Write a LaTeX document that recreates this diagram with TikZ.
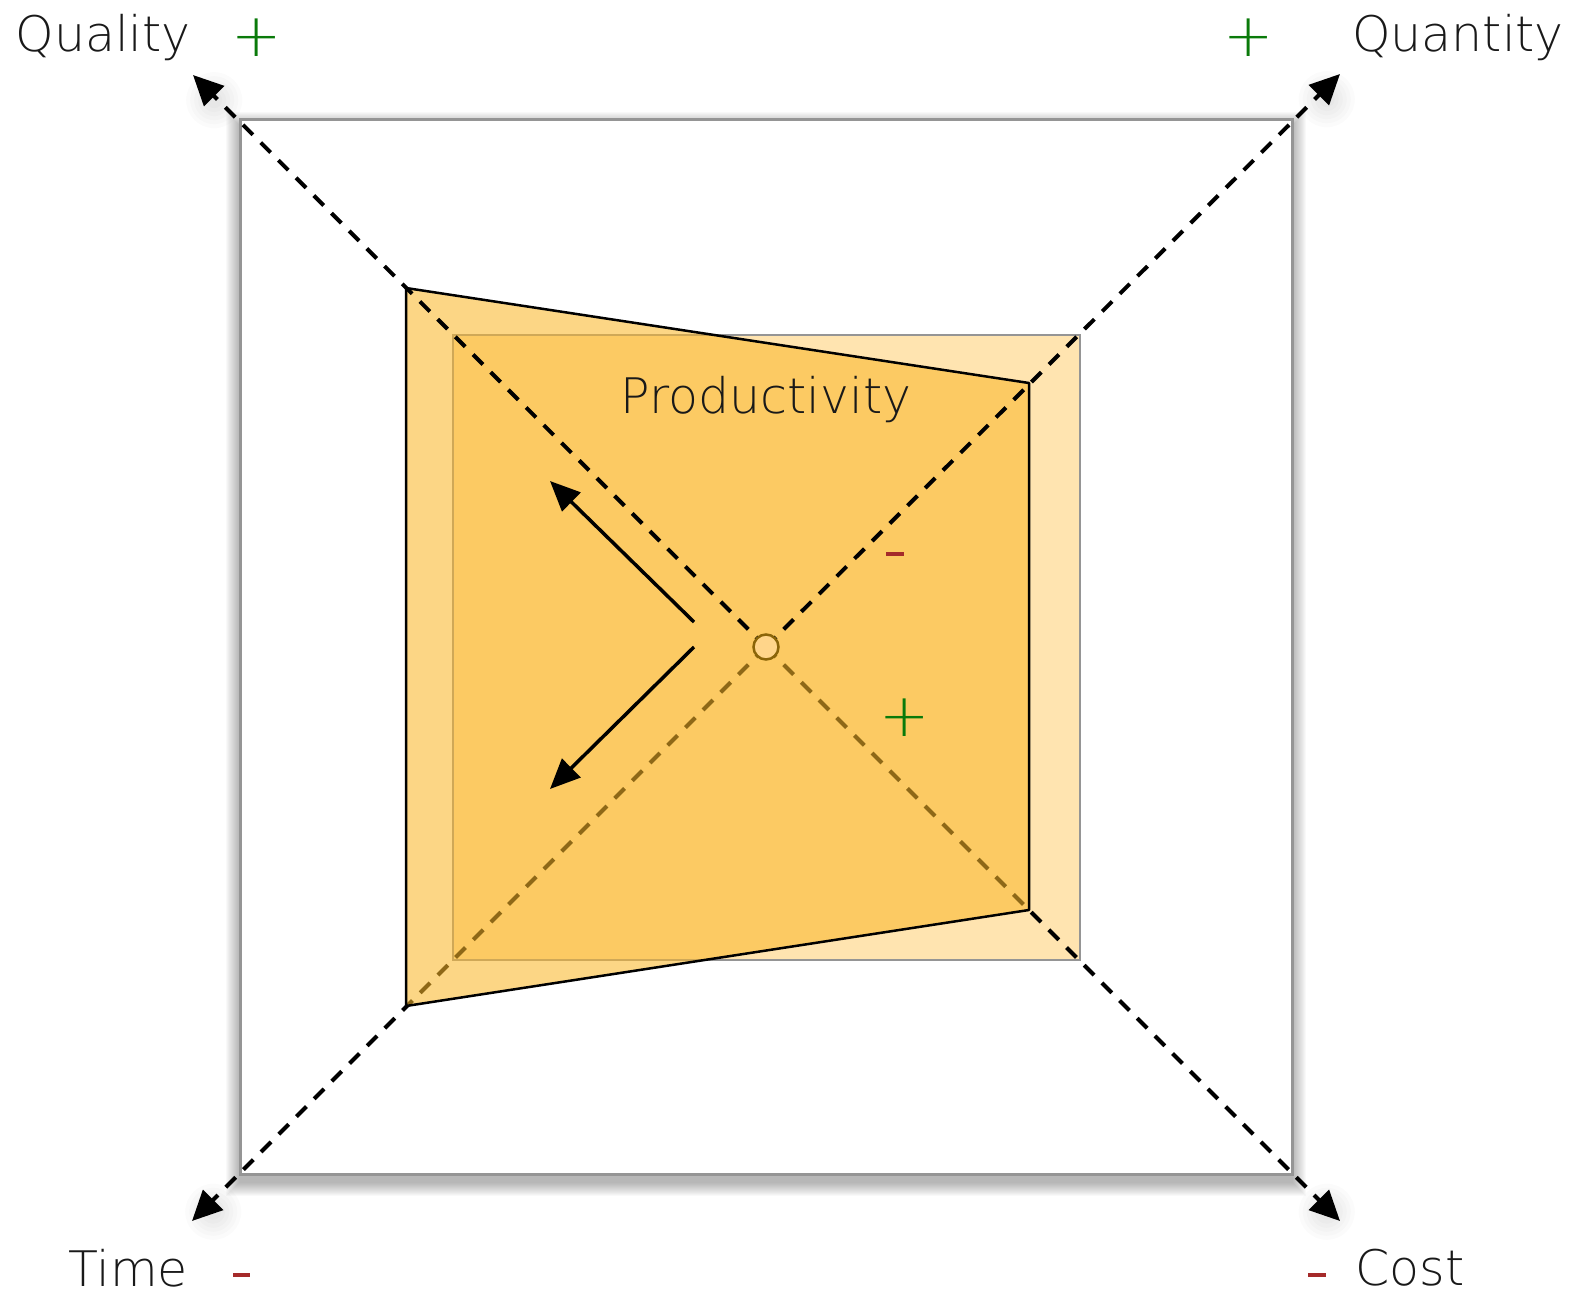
\documentclass[tikz,border=0pt]{standalone}
\usepackage{fontspec}
\setmainfont{DejaVu Sans ExtraLight}
\usetikzlibrary{arrows.meta,calc}
\definecolor{polyfill}{HTML}{FBB829}
\definecolor{innerfill}{HTML}{FFE4B0}
\definecolor{framegray}{HTML}{959595}
\definecolor{plusgreen}{HTML}{0A7A0A}
\definecolor{minusred}{HTML}{A52A2A}
\definecolor{dotstroke}{HTML}{8B6508}
\definecolor{dotfill}{HTML}{FFD58A}
\tikzset{
  dashline/.style={line width=4pt, dash pattern=on 14pt off 11pt, -{Triangle[length=30pt,width=28pt]}},
  moveline/.style={line width=3.5pt, -{Triangle[length=30pt,width=26pt]}},
  biglabel/.style={font=\fontsize{49}{56}\selectfont, inner sep=0pt, text=black!90},
  pluslabel/.style={font=\fontsize{60}{62}\selectfont, inner sep=0pt, text=plusgreen},
  minusbar/.style={line width=3.5pt, draw=minusred},
}
\begin{document}
\begin{tikzpicture}[x=1pt,y=-1pt]
\useasboundingbox (0,0) rectangle (1572,1295);
\coordinate (C) at (766,647);
\coordinate (TL) at (193,75);
\coordinate (TR) at (1340,74);
\coordinate (BL) at (192,1221);
\coordinate (BR) at (1340,1221);
% shadow of outer frame
\foreach \i in {1,...,14}{
  \fill[black, opacity=0.024] (240-\i,126-\i) rectangle (1292+\i,1182+\i);
}
% arrow tip shadows
\foreach \p in {TL,TR,BL,BR}{
  \foreach \r in {8,12,...,28}{
    \fill[black, opacity=0.014] ($(\p)!0.03!(C)+(4,8)$) circle (\r);
  }
}
\node (outer) [draw=framegray, fill=white, line width=3pt, minimum width=1052pt, minimum height=1054pt, inner sep=0pt] at (766,647) {};
\node (inner) [draw=framegray, fill=innerfill, line width=2.5pt, minimum width=627pt, minimum height=625pt, inner sep=0pt] at (766.5,647.5) {};
% lower dashed axes (under polygon)
\draw[dashline] (C) -- (BL);
\draw[dashline] (C) -- (BR);
% productivity polygon
\coordinate (P1) at (406,288);
\coordinate (P2) at (1029,383);
\coordinate (P3) at (1029,910);
\coordinate (P4) at (406,1006);
\fill[polyfill, opacity=0.57] (P1) -- (P2) -- (P3) -- (P4) -- cycle;
\draw[black, line width=2.5pt, line join=round] (P1) -- (P2) -- (P3) -- (P4) -- cycle;
% upper dashed axes
\draw[dashline] (C) -- (TL);
\draw[dashline] (C) -- (TR);
% centre point
\node (dot) [circle, draw=dotstroke, fill=dotfill, line width=2.5pt, minimum size=25pt, inner sep=0pt] at (C) {};
% movement arrows
\coordinate (a0) at (694,622);
\coordinate (a1) at (550,481);
\coordinate (b0) at (694,647);
\coordinate (b1) at (550,789);
\draw[moveline] (a0) -- (a1);
\draw[moveline] (b0) -- (b1);
% labels
\node (quality) [biglabel] at (103,38) {Quality};
\node (qualplus) [pluslabel] at (257,38) {+};
\node (quantplus) [pluslabel] at (1249,38) {+};
\node (quantity) [biglabel] at (1458,38) {Quantity};
\node (time) [biglabel] at (128,1268) {Time};
\node (cost) [biglabel] at (1410,1268) {Cost};
\node (prod) [biglabel] at (766,400) {Productivity};
\node (cplus) [pluslabel] at (905,718) {+};
% minus signs
\coordinate (tm0) at (233,1275); \coordinate (tm1) at (250,1275);
\coordinate (cm0) at (1308,1275); \coordinate (cm1) at (1326,1275);
\coordinate (mm0) at (886,554); \coordinate (mm1) at (904,554);
\draw[minusbar] (tm0) -- (tm1);
\draw[minusbar] (cm0) -- (cm1);
\draw[minusbar] (mm0) -- (mm1);
\end{tikzpicture}
\end{document}
